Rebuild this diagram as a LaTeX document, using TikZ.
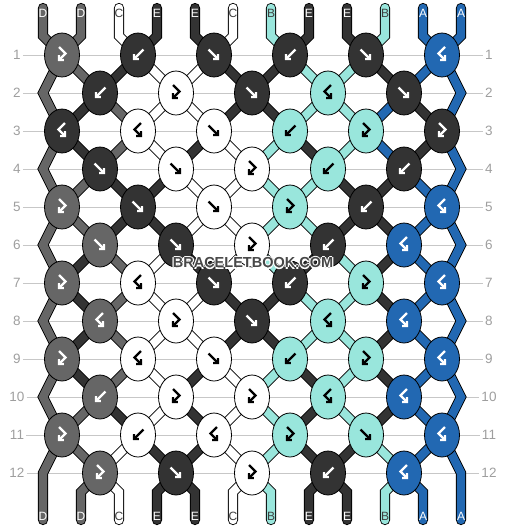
\documentclass[tikz,border=0pt]{standalone}
\usepackage{fontspec}
\setmainfont{Liberation Sans}
\usetikzlibrary{shapes,arrows.meta,backgrounds}

\definecolor{sA}{HTML}{2268B2}
\definecolor{sB}{HTML}{99E6DC}
\definecolor{sC}{HTML}{FFFFFF}
\definecolor{sD}{HTML}{666666}
\definecolor{sE}{HTML}{333333}
% arrow colour in the knots
\colorlet{gA}{white}\colorlet{gB}{black}\colorlet{gC}{black}\colorlet{gD}{white}\colorlet{gE}{white}
% letter colour on the strings
\colorlet{lA}{white}\colorlet{lB}{black!75}\colorlet{lC}{black!75}\colorlet{lD}{white}\colorlet{lE}{white}

% white rim round the site name
\newcommand\rimtext[1]{%
  \rlap{\color{white}\hspace{-1.2pt}#1}\rlap{\color{white}\hspace{1.2pt}#1}%
  \rlap{\color{white}\raisebox{1.2pt}{#1}}\rlap{\color{white}\raisebox{-1.2pt}{#1}}#1}

\tikzset{
  knot/.style={ellipse, draw=black, line width=0.8pt, fill=#1, minimum width=35pt, minimum height=44pt, inner sep=0pt},
  strand/.style={draw=black, line width=0.9pt, double=#1, double distance=8.4pt},
  glyph/.style={draw=#1, line width=2.3pt, -{Straight Barb[length=3.2pt,width=6.8pt]}},
  rowline/.style={draw=black!22, line width=1pt},
  rowno/.style={text=black!38, inner sep=2pt, font=\fontsize{13.5}{14}\selectfont},
  strtag/.style={text=#1, inner sep=0pt, font=\fontsize{12}{12}\selectfont},
  pics/f/.style={code={\draw[glyph=#1] (-5.5,-5.5) -- (5,5);}},
  pics/b/.style={code={\draw[glyph=#1] (5.5,-5.5) -- (-5,5);}},
  pics/fb/.style={code={\draw[glyph=#1] (-3,-8) -- (3.5,-1.5) -- (-4,6);}},
  pics/bf/.style={code={\draw[glyph=#1] (3,-8) -- (-3.5,-1.5) -- (4,6);}}
}

\begin{document}
\begin{tikzpicture}[x=1pt, y=-1pt]
  \useasboundingbox (0,0) rectangle (506,528);

  % knots, row by row
  \foreach \row/\knots in {
    1/{D/fb,E/b,E/f,E/b,E/f,A/bf},
    2/{E/b,C/fb,E/f,B/bf,E/f},
    3/{E/bf,C/bf,C/f,B/b,B/fb,E/fb},
    4/{E/f,C/f,C/fb,B/b,E/b},
    5/{D/fb,E/f,C/f,B/fb,E/b,A/bf},
    6/{D/f,E/f,C/fb,E/b,A/bf},
    7/{D/fb,C/bf,E/f,E/b,B/fb,A/bf},
    8/{D/bf,C/fb,E/f,B/bf,A/bf},
    9/{D/fb,C/bf,C/f,B/b,B/fb,A/bf},
    10/{D/b,C/fb,C/fb,B/bf,A/bf},
    11/{D/fb,C/b,C/bf,B/fb,B/f,A/bf},
    12/{D/fb,E/f,C/fb,E/b,A/bf}}{
    \ifodd\row \def\xs{62}\else \def\xs{100}
      \coordinate (k\row-L) at (43,{17+38*\row});
      \coordinate (k\row-R) at (461,{17+38*\row});
    \fi
    \foreach \col/\kind [count=\p from 0] in \knots {
      \node[knot=s\col] (k\row-\p) at ({\xs+76*\p},{17+38*\row}) {};
      \pic at (k\row-\p) {\kind=g\col};
    }
  }

  % row numbers
  \foreach \row in {1,...,12}{
    \node[rowno] (nl\row) at (17,{17+38*\row}) {\row};
    \node[rowno] (nr\row) at (489,{17+38*\row}) {\row};
  }

  % string ends and letters
  \foreach \col [count=\i from 0] in {D,D,C,E,E,C,B,E,E,B,A,A}{
    \coordinate (top\i) at ({43+38*\i},8);
    \coordinate (in\i) at ({43+38*\i},36);
    \coordinate (out\i) at ({43+38*\i},492);
    \coordinate (end\i) at ({43+38*\i},520);
    \node[strtag=l\col] (lt\i) at ({43+38*\i},13) {\col};
    \node[strtag=l\col] (lb\i) at ({43+38*\i},516) {\col};
  }

  \begin{scope}[on background layer]
    \foreach \row in {1,...,12} \draw[rowline] (nl\row) -- (nr\row);

    % outer strings
    \draw[strand=sD, line cap=round] (top0) -- (in0)
      \foreach \rr [evaluate=\rr as \rn using int(\rr+1)] in {1,3,...,11}{ -- (k\rr-0.center) -- (k\rn-L) } -- (end0);
    \draw[strand=sA, line cap=round] (top11) -- (in11)
      \foreach \rr [evaluate=\rr as \rn using int(\rr+1)] in {1,3,...,11}{ -- (k\rr-5.center) -- (k\rn-R) } -- (end11);

    % top and bottom
    \foreach \col [count=\i from 0] in {D,D,C,E,E,C,B,E,E,B,A,A}{
      \ifnum\i>0 \ifnum\i<11
        \pgfmathtruncatemacro\pa{floor(\i/2)}
        \pgfmathtruncatemacro\pb{floor((\i-1)/2)}
        \draw[strand=s\col, line cap=round] (top\i) -- (in\i) -- (k1-\pa.center);
        \draw[strand=s\col, line cap=round] (k12-\pb.center) -- (out\i) -- (end\i);
      \fi\fi
    }

    % strands between the rows
    \foreach \row/\state in {
      1/{D,D,E,C,C,E,E,B,B,E,A,A},
      2/{D,E,D,C,C,E,E,B,B,A,E,A},
      3/{D,E,D,C,E,C,B,E,B,A,E,A},
      4/{D,D,E,E,C,C,B,B,E,E,A,A},
      5/{D,D,E,E,C,C,B,B,E,E,A,A},
      6/{D,E,D,C,E,C,B,E,B,E,A,A},
      7/{D,E,D,C,C,E,E,B,B,E,A,A},
      8/{D,E,D,C,C,E,E,B,B,E,A,A},
      9/{D,E,D,C,E,C,B,E,B,E,A,A},
      10/{D,D,E,C,E,C,B,E,B,E,A,A},
      11/{D,D,C,E,E,C,B,E,E,B,A,A}}{
      \pgfmathtruncatemacro\nxt{\row+1}
      \foreach \col [count=\i from 0] in \state {
        \ifnum\i>0 \ifnum\i<11
          \pgfmathtruncatemacro\pa{isodd(\row) ? floor(\i/2) : floor((\i-1)/2)}
          \pgfmathtruncatemacro\pb{isodd(\row) ? floor((\i-1)/2) : floor(\i/2)}
          \draw[strand=s\col] (k\row-\pa.center) -- (k\nxt-\pb.center);
        \fi\fi
      }
    }
  \end{scope}

  \node[text=black!72, font=\bfseries\fontsize{14.5}{15}\selectfont] (mark) at (253,263) {\rimtext{BRACELETBOOK.COM}};
\end{tikzpicture}
\end{document}
